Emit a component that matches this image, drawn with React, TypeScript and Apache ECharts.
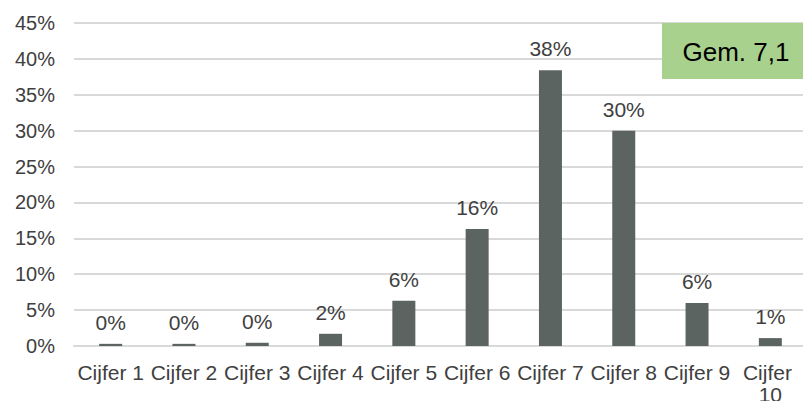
import React, { useEffect, useRef } from "react";
import * as echarts from "echarts";

const categories = ["Cijfer 1", "Cijfer 2", "Cijfer 3", "Cijfer 4", "Cijfer 5", "Cijfer 6", "Cijfer 7", "Cijfer 8", "Cijfer 9", "Cijfer 10"];
const values = [0.3, 0.3, 0.45, 1.7, 6.3, 16.3, 38.4, 30.0, 6.0, 1.1];
const yTicks = { min: 0, max: 45, interval: 5 };
const averageText = "Gem. 7,1";

const FONT = "'Liberation Sans', Arial, sans-serif";

export default function App() {
  const ref = useRef<HTMLDivElement>(null);
  useEffect(() => {
    if (!ref.current) return;
    const chart = echarts.init(ref.current, null, { renderer: "svg" });
    chart.setOption({
      animation: false,
      backgroundColor: "#ffffff",
      grid: { left: 74, right: -4, top: 23, bottom: 55, containLabel: false, outerBoundsMode: "none" },
      xAxis: {
        type: "category",
        data: categories,
        axisLine: { show: true, lineStyle: { color: "#d9d9d9", width: 2 } },
        axisTick: { show: false },
        axisLabel: {
          color: "#404040",
          fontFamily: FONT,
          fontSize: 21,
          margin: 15,
          lineHeight: 22,
          interval: 0,
          width: 72,
          overflow: "break",
        },
      },
      yAxis: {
        type: "value",
        min: yTicks.min,
        max: yTicks.max,
        interval: yTicks.interval,
        axisLine: { show: false },
        axisTick: { show: false },
        splitLine: { lineStyle: { color: "#d9d9d9", width: 2 } },
        axisLabel: {
          formatter: "{value}%",
          color: "#404040",
          fontFamily: FONT,
          fontSize: 20,
          margin: 19,
        },
      },
      series: [
        {
          type: "bar",
          data: values,
          barWidth: 23,
          itemStyle: { color: "#5c6461" },
          label: {
            show: true,
            position: "top",
            distance: 11,
            color: "#404040",
            fontFamily: FONT,
            fontSize: 21,
            formatter: (p: any) => Math.round(p.value) + "%",
          },
        },
      ],
      graphic: [
        {
          type: "rect",
          shape: { x: 662, y: 23, width: 145, height: 56 },
          style: { fill: "#a9d18e" },
          z: 10,
        },
        {
          type: "text",
          x: 736,
          y: 52,
          style: {
            text: averageText,
            fill: "#000000",
            font: `26px ${FONT}`,
            textAlign: "center",
            textVerticalAlign: "middle",
          },
          z: 11,
        },
      ],
    });
    return () => chart.dispose();
  }, []);
  return (
    <div
      ref={ref}
      style={{ position: "fixed", left: 0, top: 0, width: 803, height: 401 }}
    />
  );
}
